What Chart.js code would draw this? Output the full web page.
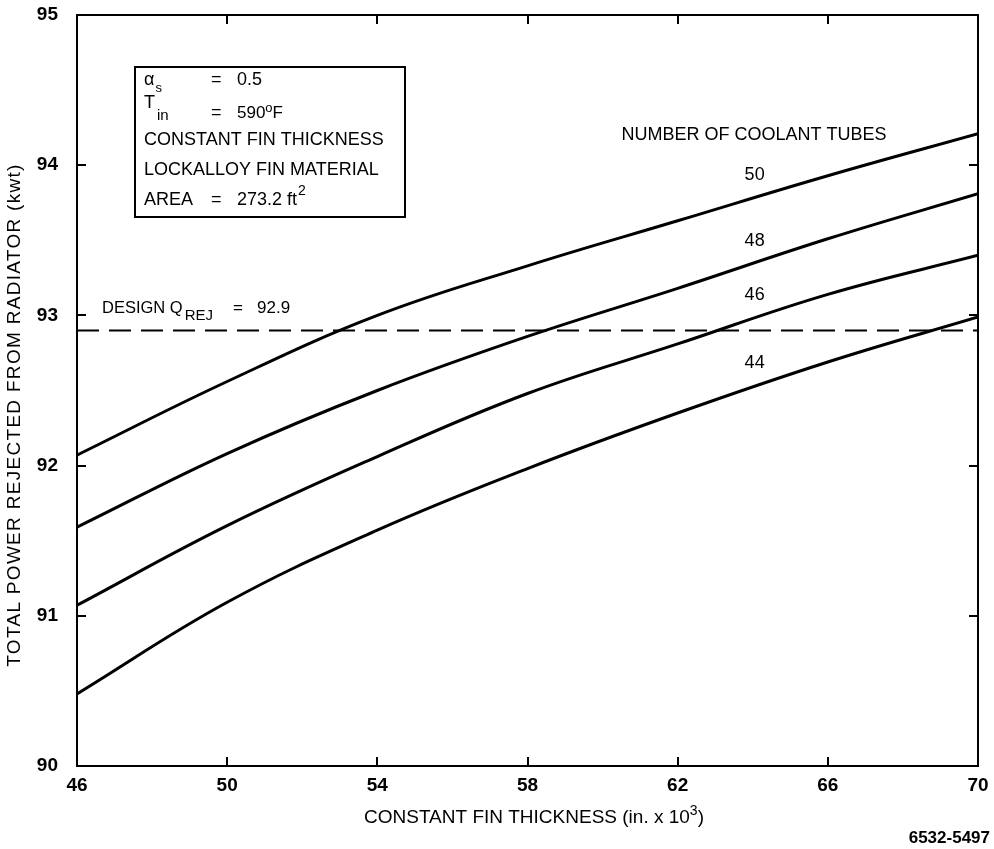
<!DOCTYPE html>
<html>
<head>
<meta charset="utf-8">
<script src="https://cdn.jsdelivr.net/npm/chart.js@4.4.1/dist/chart.umd.min.js"></script>
<style>
  html, body { margin: 0; padding: 0; background: #fff; }
  #wrap { width: 994px; height: 849px; }
</style>
</head>
<body>
<div id="wrap"><canvas id="c" width="994" height="849"></canvas></div>
<script>
// Fin thickness (in. x 10^3) at which each curve is read
const THICKNESS = [46, 50, 54, 58, 62, 66, 70];

// Total power rejected (kwt) for each number of coolant tubes
const TUBES_50 = [92.07, 92.56, 93.00, 93.33, 93.63, 93.93, 94.21];
const TUBES_48 = [91.59, 92.08, 92.50, 92.86, 93.18, 93.51, 93.81];
const TUBES_46 = [91.07, 91.60, 92.06, 92.48, 92.81, 93.14, 93.40];
const TUBES_44 = [90.48, 91.09, 91.57, 91.98, 92.35, 92.69, 92.99];
const TUBE_LABELS = ['50', '48', '46', '44'];

// Design heat rejection requirement (kwt)
const DESIGN_Q = 92.9;

// Axis ranges and tick steps
const X_MIN = 46, X_MAX = 70, X_STEP = 4;
const Y_MIN = 90, Y_MAX = 95, Y_STEP = 1;

const FONT = '"Liberation Sans", Arial, Helvetica, sans-serif';

const curves = [TUBES_50, TUBES_48, TUBES_46, TUBES_44];

const datasets = curves.map((vals, i) => ({
  label: TUBE_LABELS[i],
  data: THICKNESS.map((x, j) => ({ x: x, y: vals[j] })),
  borderColor: '#000',
  borderWidth: 3,
  pointRadius: 0,
  fill: false,
  tension: 0.4
}));

datasets.push({
  label: 'design',
  data: [{ x: X_MIN, y: DESIGN_Q }, { x: X_MAX, y: DESIGN_Q }],
  borderColor: '#000',
  borderWidth: 2,
  borderDash: [22, 10],
  pointRadius: 0,
  fill: false
});

function setFont(ctx, size, weight) {
  ctx.font = (weight || 'normal') + ' ' + size + 'px ' + FONT;
}
// Places one piece of text with its left edge at x, vertically centred on y
function put(ctx, text, x, y, size, weight) {
  setFont(ctx, size, weight);
  ctx.textAlign = 'left';
  ctx.textBaseline = 'middle';
  ctx.fillText(text, x, y);
  return ctx.measureText(text).width;
}

const framePlugin = {
  id: 'frame',
  afterDraw(chart) {
    const ctx = chart.ctx;
    const a = chart.chartArea;
    const xs = chart.scales.x, ys = chart.scales.y;
    ctx.save();
    ctx.strokeStyle = '#000';
    ctx.fillStyle = '#000';

    // plot frame
    ctx.lineWidth = 2;
    ctx.strokeRect(a.left, a.top, a.right - a.left, a.bottom - a.top);

    // inward ticks on all four sides
    const TL = 9;
    ctx.beginPath();
    for (let v = X_MIN + X_STEP; v < X_MAX; v += X_STEP) {
      const px = Math.round(xs.getPixelForValue(v));
      ctx.moveTo(px, a.bottom); ctx.lineTo(px, a.bottom - TL);
      ctx.moveTo(px, a.top); ctx.lineTo(px, a.top + TL);
    }
    for (let v = Y_MIN + Y_STEP; v < Y_MAX; v += Y_STEP) {
      const py = Math.round(ys.getPixelForValue(v));
      ctx.moveTo(a.left, py); ctx.lineTo(a.left + TL, py);
      ctx.moveTo(a.right, py); ctx.lineTo(a.right - TL, py);
    }
    ctx.stroke();

    // x axis title with superscript exponent
    setFont(ctx, 19);
    const main = 'CONSTANT FIN THICKNESS (in. x 10';
    const w1 = ctx.measureText(main).width;
    setFont(ctx, 14);
    const w2 = ctx.measureText('3').width;
    setFont(ctx, 19);
    const w3 = ctx.measureText(')').width;
    const x0 = 534 - (w1 + w2 + w3) / 2;
    put(ctx, main, x0, 818, 19);
    put(ctx, '3', x0 + w1, 811, 14);
    put(ctx, ')', x0 + w1 + w2, 818, 19);

    // y axis title
    ctx.save();
    ctx.translate(15, 415);
    ctx.rotate(-Math.PI / 2);
    setFont(ctx, 19);
    ctx.letterSpacing = '1.3px';
    ctx.textAlign = 'center';
    ctx.textBaseline = 'middle';
    ctx.fillText('TOTAL POWER REJECTED FROM RADIATOR (kwt)', 0, 0);
    ctx.restore();

    // drawing number
    setFont(ctx, 17, 'bold');
    ctx.textAlign = 'right';
    ctx.textBaseline = 'middle';
    ctx.fillText('6532-5497', 990, 838);

    // parameter box
    ctx.lineWidth = 2;
    ctx.strokeRect(135, 67, 270, 150);
    const tx = 144, eqx = 211, vx = 237, fs = 18;
    const wa = put(ctx, 'α', tx, 80, fs);
    put(ctx, 's', tx + wa + 1, 88, 13);
    put(ctx, '=', eqx, 80, fs);
    put(ctx, '0.5', vx, 80, fs);
    const wt = put(ctx, 'T', tx, 103, fs);
    put(ctx, 'in', tx + wt + 2, 116, 15);
    put(ctx, '=', eqx, 113, fs);
    const w590 = put(ctx, '590', vx, 113, 17);
    const wo = put(ctx, 'o', vx + w590, 108, 13);
    put(ctx, 'F', vx + w590 + wo, 113, 17);
    put(ctx, 'CONSTANT FIN THICKNESS', tx, 140, fs);
    put(ctx, 'LOCKALLOY FIN MATERIAL', tx, 170, fs);
    put(ctx, 'AREA', tx, 200, fs);
    put(ctx, '=', eqx, 200, fs);
    const wft = put(ctx, '273.2 ft', vx, 200, fs);
    put(ctx, '2', vx + wft + 1, 191, 14);

    // design requirement label just above the dashed line
    const dy = ys.getPixelForValue(DESIGN_Q);
    const wq = put(ctx, 'DESIGN Q', 102, dy - 22, 16.5);
    put(ctx, 'REJ', 102 + wq + 2, dy - 15, 15);
    put(ctx, '=', 233, dy - 22, 17);
    put(ctx, '92.9', 257, dy - 22, 17);

    // curve legend
    setFont(ctx, 18);
    ctx.textAlign = 'center';
    ctx.textBaseline = 'middle';
    ctx.fillText('NUMBER OF COOLANT TUBES', 754, 135);
    const labelX = xs.getPixelForValue(64.05);
    const labelY = [93.935, 93.495, 93.136, 92.683];
    TUBE_LABELS.forEach((t, i) => {
      ctx.fillText(t, labelX, ys.getPixelForValue(labelY[i]));
    });
    ctx.restore();
  }
};

new Chart(document.getElementById('c'), {
  type: 'line',
  data: { datasets: datasets },
  options: {
    responsive: false,
    animation: false,
    events: [],
    layout: { padding: { top: 15, right: 16, left: 0, bottom: 0 } },
    plugins: { legend: { display: false }, tooltip: { enabled: false } },
    scales: {
      x: {
        type: 'linear',
        min: X_MIN, max: X_MAX,
        ticks: { stepSize: X_STEP, padding: 8, color: '#000', font: { family: FONT, size: 19, weight: 'bold' } },
        grid: { display: false, drawTicks: false },
        border: { display: false },
        afterFit(s) { s.height = 83; s.paddingLeft = 0; s.paddingRight = 0; }
      },
      y: {
        type: 'linear',
        min: Y_MIN, max: Y_MAX,
        ticks: { stepSize: Y_STEP, padding: 19, color: '#000', font: { family: FONT, size: 19, weight: 'bold' } },
        grid: { display: false, drawTicks: false },
        border: { display: false },
        afterFit(s) { s.width = 77; s.paddingTop = 0; s.paddingBottom = 0; }
      }
    }
  },
  plugins: [framePlugin]
});
</script>
</body>
</html>
